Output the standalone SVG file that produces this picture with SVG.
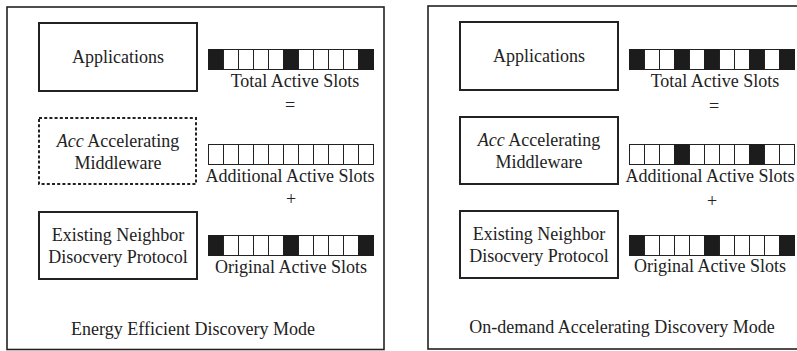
<svg xmlns="http://www.w3.org/2000/svg" width="797" height="351" viewBox="0 0 797 351">
<style>
.frame{fill:none;stroke:#222;stroke-width:1.6}
.box{fill:#fff;stroke:#222;stroke-width:2}
.dash{fill:#fff;stroke:#222;stroke-width:2;stroke-dasharray:3 2.2}
.s{fill:#fff;stroke:#222;stroke-width:1}
.d{fill:#1c1c1c;stroke:#1c1c1c;stroke-width:1}
text{font-family:"Liberation Serif","Times New Roman",serif;font-size:18px;fill:#222;text-anchor:middle}
</style>
<rect width="797" height="351" fill="#fff"/>
<g id="panel-left">
<rect class="frame" x="7" y="7" width="377" height="342.5"/>
<g id="apps-l"><rect class="box" x="39" y="23" width="158" height="68"/><text x="118" y="63">Applications</text></g>
<g id="acc-l"><rect class="dash" x="39" y="118" width="157" height="66"/><text x="118" y="147"><tspan font-style="italic">Acc</tspan> Accelerating</text><text x="118" y="169">Middleware</text></g>
<g id="endp-l"><rect class="box" x="39" y="212" width="158" height="67"/><text x="118" y="241">Existing Neighbor</text><text x="118" y="263">Disocvery Protocol</text></g>
<g id="total-l">
<rect class="d" x="208.5" y="49.5" width="15" height="20"/><rect class="s" x="223.5" y="49.5" width="15" height="20"/><rect class="s" x="238.5" y="49.5" width="15" height="20"/><rect class="s" x="253.5" y="49.5" width="15" height="20"/><rect class="s" x="268.5" y="49.5" width="15" height="20"/><rect class="d" x="283.5" y="49.5" width="15" height="20"/><rect class="s" x="298.5" y="49.5" width="15" height="20"/><rect class="s" x="313.5" y="49.5" width="15" height="20"/><rect class="s" x="328.5" y="49.5" width="15" height="20"/><rect class="s" x="343.5" y="49.5" width="15" height="20"/><rect class="d" x="358.5" y="49.5" width="15" height="20"/>
<text x="295" y="87">Total Active Slots</text>
<text x="290" y="111">=</text>
</g>
<g id="add-l">
<rect class="s" x="208.5" y="144.5" width="15" height="20"/><rect class="s" x="223.5" y="144.5" width="15" height="20"/><rect class="s" x="238.5" y="144.5" width="15" height="20"/><rect class="s" x="253.5" y="144.5" width="15" height="20"/><rect class="s" x="268.5" y="144.5" width="15" height="20"/><rect class="s" x="283.5" y="144.5" width="15" height="20"/><rect class="s" x="298.5" y="144.5" width="15" height="20"/><rect class="s" x="313.5" y="144.5" width="15" height="20"/><rect class="s" x="328.5" y="144.5" width="15" height="20"/><rect class="s" x="343.5" y="144.5" width="15" height="20"/><rect class="s" x="358.5" y="144.5" width="15" height="20"/>
<text x="290" y="182">Additional Active Slots</text>
<text x="291" y="205">+</text>
</g>
<g id="orig-l">
<rect class="d" x="208.5" y="235.5" width="15" height="20"/><rect class="s" x="223.5" y="235.5" width="15" height="20"/><rect class="s" x="238.5" y="235.5" width="15" height="20"/><rect class="s" x="253.5" y="235.5" width="15" height="20"/><rect class="s" x="268.5" y="235.5" width="15" height="20"/><rect class="d" x="283.5" y="235.5" width="15" height="20"/><rect class="s" x="298.5" y="235.5" width="15" height="20"/><rect class="s" x="313.5" y="235.5" width="15" height="20"/><rect class="s" x="328.5" y="235.5" width="15" height="20"/><rect class="s" x="343.5" y="235.5" width="15" height="20"/><rect class="d" x="358.5" y="235.5" width="15" height="20"/>
<text x="291" y="273">Original Active Slots</text>
</g>
<text x="193" y="335">Energy Efficient Discovery Mode</text>
</g>
<g id="panel-right">
<rect class="frame" x="428" y="6" width="380" height="343"/>
<g id="apps-r"><rect class="box" x="460" y="22" width="158" height="68"/><text x="539" y="62">Applications</text></g>
<g id="acc-r"><rect class="box" x="460" y="117" width="158" height="67"/><text x="539" y="146"><tspan font-style="italic">Acc</tspan> Accelerating</text><text x="539" y="168">Middleware</text></g>
<g id="endp-r"><rect class="box" x="460" y="211" width="158" height="67"/><text x="539" y="240">Existing Neighbor</text><text x="539" y="262">Disocvery Protocol</text></g>
<g id="total-r">
<rect class="d" x="629.5" y="49.5" width="15" height="20"/><rect class="s" x="644.5" y="49.5" width="15" height="20"/><rect class="s" x="659.5" y="49.5" width="15" height="20"/><rect class="d" x="674.5" y="49.5" width="15" height="20"/><rect class="s" x="689.5" y="49.5" width="15" height="20"/><rect class="d" x="704.5" y="49.5" width="15" height="20"/><rect class="s" x="719.5" y="49.5" width="15" height="20"/><rect class="s" x="734.5" y="49.5" width="15" height="20"/><rect class="d" x="749.5" y="49.5" width="15" height="20"/><rect class="s" x="764.5" y="49.5" width="15" height="20"/><rect class="d" x="779.5" y="49.5" width="15" height="20"/>
<text x="715" y="87">Total Active Slots</text>
<text x="714" y="112">=</text>
</g>
<g id="add-r">
<rect class="s" x="629.5" y="144.5" width="15" height="20"/><rect class="s" x="644.5" y="144.5" width="15" height="20"/><rect class="s" x="659.5" y="144.5" width="15" height="20"/><rect class="d" x="674.5" y="144.5" width="15" height="20"/><rect class="s" x="689.5" y="144.5" width="15" height="20"/><rect class="s" x="704.5" y="144.5" width="15" height="20"/><rect class="s" x="719.5" y="144.5" width="15" height="20"/><rect class="s" x="734.5" y="144.5" width="15" height="20"/><rect class="d" x="749.5" y="144.5" width="15" height="20"/><rect class="s" x="764.5" y="144.5" width="15" height="20"/><rect class="s" x="779.5" y="144.5" width="15" height="20"/>
<text x="710" y="182">Additional Active Slots</text>
<text x="712" y="207">+</text>
</g>
<g id="orig-r">
<rect class="d" x="629.5" y="235.5" width="15" height="20"/><rect class="s" x="644.5" y="235.5" width="15" height="20"/><rect class="s" x="659.5" y="235.5" width="15" height="20"/><rect class="s" x="674.5" y="235.5" width="15" height="20"/><rect class="s" x="689.5" y="235.5" width="15" height="20"/><rect class="d" x="704.5" y="235.5" width="15" height="20"/><rect class="s" x="719.5" y="235.5" width="15" height="20"/><rect class="s" x="734.5" y="235.5" width="15" height="20"/><rect class="s" x="749.5" y="235.5" width="15" height="20"/><rect class="s" x="764.5" y="235.5" width="15" height="20"/><rect class="d" x="779.5" y="235.5" width="15" height="20"/>
<text x="710" y="272">Original Active Slots</text>
</g>
<text x="622" y="333">On-demand Accelerating Discovery Mode</text>
</g>
<g id="connectors"/>
</svg>
